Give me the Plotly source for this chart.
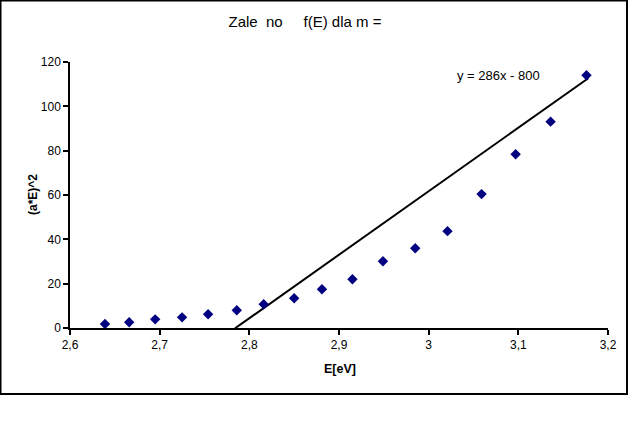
import plotly.graph_objects as go

# Data
E = [2.639, 2.666, 2.695, 2.725, 2.754, 2.786, 2.816, 2.850, 2.881, 2.915,
     2.949, 2.985, 3.021, 3.059, 3.097, 3.136, 3.176]
aE2 = [1.8, 2.6, 3.9, 4.8, 6.2, 8.0, 10.7, 13.4, 17.5, 22.0,
       30.1, 36.0, 43.7, 60.4, 78.4, 93.1, 114.0]

trend_x = [2.784, 3.178]
trend_slope = 286.4
trend_intercept = -797.5
trend_y = [trend_slope * x + trend_intercept for x in trend_x]

title_text = "Zale\u00a0\u00a0no\u00a0\u00a0\u00a0\u00a0\u00a0f(E) dla m ="
eq_text = "y = 286x - 800"

FONT = "Liberation Sans, Arial, sans-serif"

fig = go.Figure()
fig.add_trace(go.Scatter(
    x=trend_x, y=trend_y, mode="lines",
    line=dict(color="black", width=2), hoverinfo="skip", showlegend=False))
fig.add_trace(go.Scatter(
    x=E, y=aE2, mode="markers",
    marker=dict(symbol="diamond", size=8, color="#000080"),
    showlegend=False))

L, T, PW, PH = 70, 62, 538, 266

def px(x):
    return (x - L) / PW

def py(y):
    return (T + PH - y) / PH

fig.update_layout(
    width=629, height=422,
    margin=dict(l=L, r=629 - L - PW, t=T, b=422 - T - PH),
    paper_bgcolor="white", plot_bgcolor="white",
    separators=", ",
    font=dict(family=FONT, size=12, color="black"),
    title=dict(text=title_text, x=305 / 629, y=1 - 22 / 422,
               xanchor="center", yanchor="middle",
               font=dict(family=FONT, size=15, color="black")),
    xaxis=dict(range=[2.6, 3.2], dtick=0.1, tick0=2.6, showgrid=False,
               zeroline=False, showline=True, linecolor="black", linewidth=1.5,
               ticks="outside", ticklen=5, tickcolor="black", tickwidth=1.5,
               tickfont=dict(size=12)),
    yaxis=dict(range=[0, 120], dtick=20, showgrid=False, zeroline=False,
               showline=True, linecolor="black", linewidth=1.5,
               ticks="outside", ticklen=5, tickcolor="black", tickwidth=1.5,
               tickfont=dict(size=12)),
    annotations=[
        dict(text="<b>E[eV]</b>", xref="paper", yref="paper",
             x=px(340), y=py(369), showarrow=False,
             font=dict(size=12.5), xanchor="center", yanchor="middle"),
        dict(text="<b>(a*E)^2</b>", xref="paper", yref="paper",
             x=px(33), y=py(195), showarrow=False, textangle=-90,
             font=dict(size=12), xanchor="center", yanchor="middle"),
        dict(text=eq_text, xref="x", yref="y", x=3.0784, y=114.1,
             showarrow=False, font=dict(size=13),
             xanchor="center", yanchor="middle"),
    ],
    shapes=[dict(type="rect", xref="paper", yref="paper",
                 x0=px(0.5), x1=px(627), y0=py(0.5), y1=py(394),
                 line=dict(color="black", width=2), layer="below")],
)

fig.write_html("out.html")
